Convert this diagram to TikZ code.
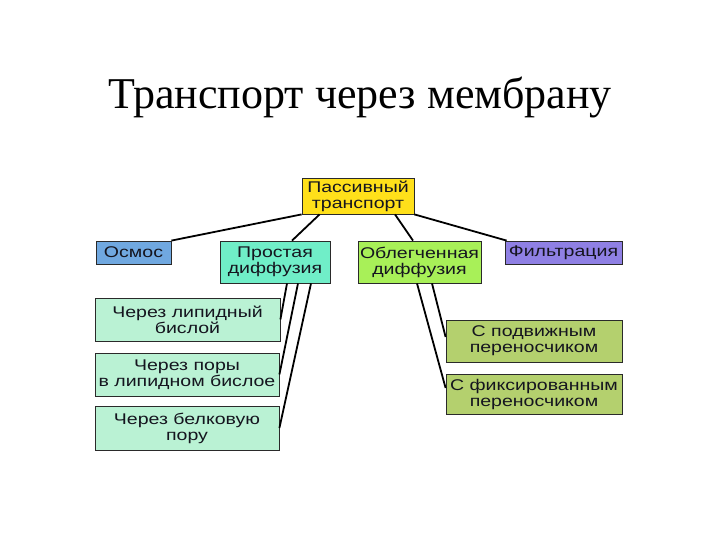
\documentclass[tikz,border=0pt]{standalone}
\usepackage{fontspec}
\setmainfont{Liberation Serif}
\newfontfamily\boxfont[FakeStretch=1.26]{Liberation Sans}
\usetikzlibrary{positioning}
\definecolor{ink}{HTML}{15151F}
\definecolor{edge}{HTML}{2A2A2A}
\definecolor{passyellow}{HTML}{FFE01A}
\definecolor{osmblue}{HTML}{70A8E0}
\definecolor{simpaqua}{HTML}{70EEC8}
\definecolor{facgreen}{HTML}{A8F058}
\definecolor{filtviolet}{HTML}{8F80E4}
\definecolor{paleaqua}{HTML}{BAF2D4}
\definecolor{olive}{HTML}{B4D06E}

\begin{document}
\begin{tikzpicture}[x=1pt,y=-1pt,
    box/.style={draw=edge,line width=0.8pt,inner sep=0pt,align=center,
      text=ink,font=\boxfont\fontsize{15.5}{16}\selectfont},
    link/.style={line width=1.8pt,black}]
        \useasboundingbox (0,0) rectangle (720,540);
        % title
        \node[font=\fontsize{44}{50}\selectfont] (title) at (360,98) {Транспорт через мембрану};
        % top box
        \node[box,fill=passyellow,minimum width=112pt,minimum height=36pt] (pass) at (358,196) {Пассивный\\транспорт};
        % second row
        \node[box,fill=osmblue,minimum width=75pt,minimum height=23pt] (osm) at (133.5,252.5) {Осмос};
        \node[box,fill=simpaqua,minimum width=110pt,minimum height=42pt] (simp) at (275,262) {Простая\\диффузия};
        \node[box,fill=facgreen,minimum width=123pt,minimum height=42pt] (fac) at (419.5,262) {Облегченная\\диффузия};
        \node[box,fill=filtviolet,minimum width=117pt,minimum height=23pt] (filt) at (563.5,252.5) {Фильтрация};
        % simple diffusion ways
        \node[box,fill=paleaqua,minimum width=185pt,minimum height=43pt] (lip) at (187.5,319.5) {Через липидный\\бислой};
        \node[box,fill=paleaqua,minimum width=184pt,minimum height=43pt] (pore) at (187,374.5) {Через поры\\в липидном бислое};
        \node[box,fill=paleaqua,minimum width=184pt,minimum height=44pt] (prot) at (187,428) {Через белковую\\пору};
        % carriers
        \node[box,fill=olive,minimum width=176pt,minimum height=42pt] (mob) at (534,341) {С подвижным\\переносчиком};
        \node[box,fill=olive,minimum width=176pt,minimum height=40pt] (fix) at (534,394) {С фиксированным\\переносчиком};
        % links
        \draw[link] (pass.south west) -- (osm.north east);
        \draw[link] ([xshift=18pt]pass.south west) -- ([xshift=17pt]simp.north);
        \draw[link] ([xshift=37pt]pass.south) -- ([xshift=-6.5pt]fac.north);
        \draw[link] (pass.south east) -- ([xshift=2pt]filt.north west);
        \draw[link] ([xshift=12pt]simp.south) -- (lip.east);
        \draw[link] ([xshift=23pt]simp.south) -- (pore.east);
        \draw[link] ([xshift=36pt]simp.south) -- (prot.east);
        \draw[link] ([xshift=12.5pt]fac.south) -- ([yshift=4pt]mob.west);
        \draw[link] ([xshift=-2.5pt]fac.south) -- ([yshift=6pt]fix.west);
      \end{tikzpicture}
\end{document}
